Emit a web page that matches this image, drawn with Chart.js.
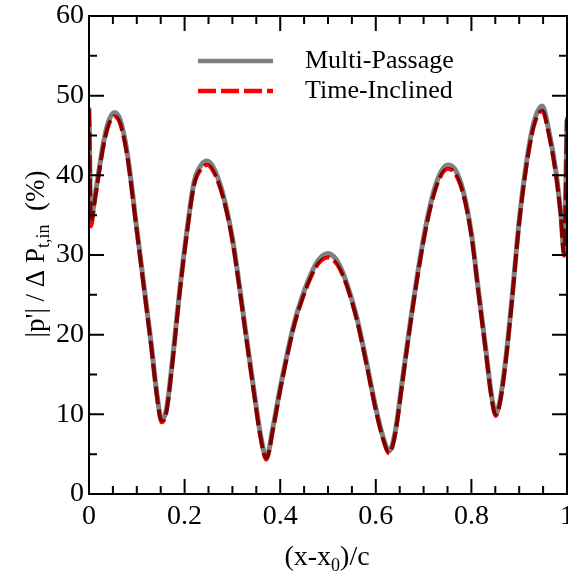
<!DOCTYPE html>
<html>
<head>
<meta charset="utf-8">
<script src="https://cdn.jsdelivr.net/npm/chart.js@4.4.0/dist/chart.umd.min.js"></script>
<style>
  html, body { margin: 0; padding: 0; background: #fff; }
</style>
</head>
<body>
<canvas id="chart" width="568" height="572"></canvas>
<script>
// x positions along the blade, (x-x0)/c
const xPos = [0, 0.004, 0.012, 0.02, 0.03, 0.04, 0.053, 0.065, 0.08, 0.1,
  0.115, 0.13, 0.142, 0.152, 0.162, 0.175, 0.19, 0.205, 0.22, 0.235,
  0.247, 0.26, 0.28, 0.3, 0.315, 0.33, 0.345, 0.358, 0.371, 0.385,
  0.4, 0.415, 0.43, 0.445, 0.46, 0.475, 0.488, 0.5, 0.512, 0.525, 0.54, 0.56, 0.58,
  0.6, 0.615, 0.628, 0.64, 0.655, 0.67, 0.69, 0.71, 0.73, 0.75,
  0.765, 0.783, 0.8, 0.815, 0.83, 0.842, 0.851, 0.86, 0.872, 0.885,
  0.9, 0.915, 0.93, 0.948, 0.962, 0.976, 0.987, 0.994, 1];

// |p'| / dPt,in in %
const multiPassage = [48.5, 34.5, 37.2, 40.3, 44.0, 46.6, 47.9, 47.0, 42.8, 33.3,
  26.1, 18.9, 12.6, 9.3, 10.6, 17.0, 25.7, 33.1, 39.2, 41.3,
  41.8, 41.0, 37.7, 32.1, 26.0, 19.4, 13.0, 7.7, 4.6, 8.4,
  13.3, 17.7, 21.6, 24.6, 27.0, 28.9, 29.9, 30.2, 29.8, 28.6, 26.3, 22.2, 16.7,
  10.8, 7.2, 5.4, 7.6, 14.0, 20.6, 28.6, 35.2, 39.6, 41.3,
  40.8, 38.0, 32.7, 25.4, 18.2, 12.4, 10.1, 11.8, 17.0, 24.6,
  34.3, 41.5, 46.5, 48.7, 45.6, 40.8, 35.2, 30.4, 47.0];

const timeInclined = [48.3, 33.6, 36.7, 39.9, 43.6, 46.1, 47.4, 46.5, 42.4, 33.0,
  25.8, 18.6, 12.3, 9.0, 10.3, 16.7, 25.4, 32.8, 38.8, 40.8,
  41.3, 40.5, 37.3, 31.8, 25.7, 19.1, 12.7, 7.4, 4.3, 8.1,
  13.0, 17.4, 21.3, 24.2, 26.6, 28.5, 29.4, 29.7, 29.3, 28.2, 26.0, 21.9, 16.4,
  10.5, 6.9, 5.1, 7.3, 13.7, 20.3, 28.3, 34.8, 39.1, 40.8,
  40.3, 37.6, 32.4, 25.1, 17.9, 12.1, 9.8, 11.5, 16.7, 24.3,
  34.0, 41.1, 46.0, 48.1, 45.1, 40.4, 34.9, 29.9, 47.3];

const seriesNames = ['Multi-Passage', 'Time-Inclined'];
const xMinorStep = 0.05;
const yMinorStep = 5;

const SERIF = '"Liberation Serif", "Times New Roman", serif';
const GRAY = '#808080';
const RED = '#ff0000';

function toPoints(vals) {
  return xPos.map((x, i) => ({ x: x, y: vals[i] }));
}

// draws text with subscript parts, centred at x
function drawRich(ctx, parts, cx, baseY, size) {
  const subSize = Math.round(size * 0.66);
  let total = 0;
  parts.forEach(p => {
    ctx.font = (p.sub ? subSize : size) + 'px ' + SERIF;
    p.w = ctx.measureText(p.t).width;
    total += p.w;
  });
  let x = cx - total / 2;
  ctx.textAlign = 'left';
  ctx.textBaseline = 'alphabetic';
  parts.forEach(p => {
    ctx.font = (p.sub ? subSize : size) + 'px ' + SERIF;
    ctx.fillText(p.t, x, baseY + (p.sub ? size * 0.2 : 0));
    x += p.w;
  });
}

const multiplyRed = {
  id: 'multiplyRed',
  beforeDatasetDraw(chart, args) {
    if (args.index === 1) {
      chart.ctx.save();
      chart.ctx.globalCompositeOperation = 'multiply';
    }
  },
  afterDatasetDraw(chart, args) {
    if (args.index === 1) chart.ctx.restore();
  }
};

const frameAndText = {
  id: 'frameAndText',
  afterDraw(chart) {
    const ctx = chart.ctx;
    const a = chart.chartArea;
    const xs = chart.scales.x, ys = chart.scales.y;
    ctx.save();
    ctx.strokeStyle = '#000';
    ctx.lineWidth = 2;
    ctx.strokeRect(a.left, a.top, a.right - a.left, a.bottom - a.top);

    ctx.beginPath();
    for (let i = 0; i * xMinorStep <= xs.max + 1e-9; i++) {
      const px = xs.getPixelForValue(i * xMinorStep);
      const len = i % 4 === 0 ? 15 : 8;
      ctx.moveTo(px, a.bottom); ctx.lineTo(px, a.bottom - len);
      ctx.moveTo(px, a.top); ctx.lineTo(px, a.top + len);
    }
    for (let i = 0; i * yMinorStep <= ys.max + 1e-9; i++) {
      const py = ys.getPixelForValue(i * yMinorStep);
      const len = i % 2 === 0 ? 15 : 8;
      ctx.moveTo(a.left, py); ctx.lineTo(a.left + len, py);
      ctx.moveTo(a.right, py); ctx.lineTo(a.right - len, py);
    }
    ctx.stroke();

    // legend
    ctx.lineWidth = 4.5;
    ctx.strokeStyle = GRAY;
    ctx.beginPath(); ctx.moveTo(198, 61); ctx.lineTo(273, 61); ctx.stroke();
    ctx.strokeStyle = RED;
    ctx.setLineDash([18, 5]);
    ctx.beginPath(); ctx.moveTo(198, 91); ctx.lineTo(273, 91); ctx.stroke();
    ctx.setLineDash([]);
    ctx.fillStyle = '#000';
    ctx.font = '26px ' + SERIF;
    ctx.textAlign = 'left';
    ctx.textBaseline = 'alphabetic';
    ctx.fillText(seriesNames[0], 305, 68);
    ctx.fillText(seriesNames[1], 305, 98);

    // axis titles
    drawRich(ctx, [{ t: '(x-x' }, { t: '0', sub: true }, { t: ')/c' }], 327, 565, 28);
    ctx.save();
    ctx.translate(44, 254);
    ctx.rotate(-Math.PI / 2);
    drawRich(ctx, [{ t: "|p'| / \u0394 P" }, { t: 't,in', sub: true }, { t: '  (%)' }], 0, 0, 27);
    ctx.restore();
    ctx.restore();
  }
};

new Chart(document.getElementById('chart'), {
  type: 'line',
  data: {
    datasets: [
      {
        label: seriesNames[0],
        data: toPoints(multiPassage),
        borderColor: GRAY,
        borderWidth: 5,
        pointRadius: 0,
        cubicInterpolationMode: 'monotone',
        order: 2
      },
      {
        label: seriesNames[1],
        data: toPoints(timeInclined),
        borderColor: RED,
        borderWidth: 4,
        borderDash: [18, 5],
        pointRadius: 0,
        cubicInterpolationMode: 'monotone',
        order: 1
      }
    ]
  },
  options: {
    responsive: false,
    animation: false,
    layout: { padding: { left: 0, right: 1, top: 16, bottom: 0 } },
    plugins: { legend: { display: false }, tooltip: { enabled: false } },
    scales: {
      x: {
        type: 'linear',
        min: 0, max: 1,
        grid: { display: false, drawTicks: false },
        border: { display: false },
        ticks: {
          stepSize: 0.2, padding: 6, color: '#000',
          font: { family: SERIF, size: 28 },
          callback: v => String(Math.round(v * 10) / 10)
        },
        afterFit(s) { s.height = 78; s.paddingLeft = 0; s.paddingRight = 0; }
      },
      y: {
        min: 0, max: 60,
        grid: { display: false, drawTicks: false },
        border: { display: false },
        ticks: { stepSize: 10, padding: 5, color: '#000', font: { family: SERIF, size: 28 } },
        afterFit(s) { s.width = 89; s.paddingTop = 0; s.paddingBottom = 0; }
      }
    }
  },
  plugins: [multiplyRed, frameAndText]
});
</script>
</body>
</html>
